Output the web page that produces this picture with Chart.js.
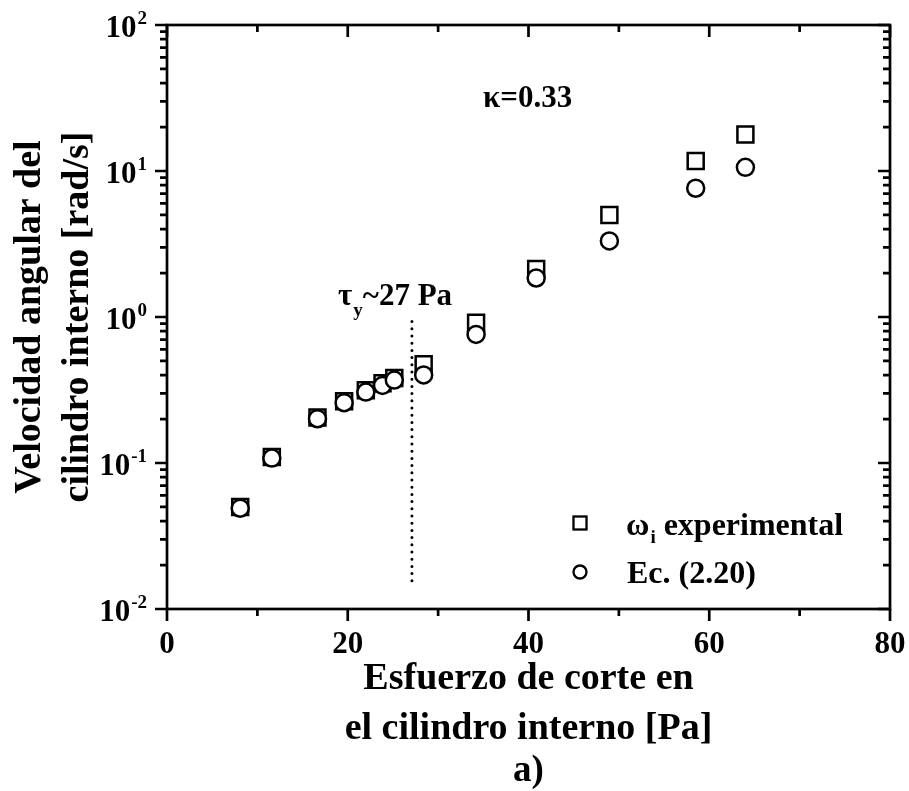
<!DOCTYPE html>
<html>
<head>
<meta charset="utf-8">
<script src="https://cdn.jsdelivr.net/npm/chart.js@4.4.1/dist/chart.umd.min.js"></script>
<style>
  html, body { margin: 0; padding: 0; background: #fff; }
  #wrap { width: 909px; height: 791px; position: relative; }
</style>
</head>
<body>
<div id="wrap"><canvas id="omegaChart"></canvas></div>
<script>
// datos
const shearStress = [8.1, 11.6, 16.65, 19.6, 22.0, 23.85, 25.15, 28.4, 34.2, 40.85, 48.95, 58.5, 64.0];
const omegaExperimental = [0.050, 0.110, 0.205, 0.265, 0.315, 0.352, 0.382, 0.474, 0.914, 2.13, 5.0, 11.7, 17.8];
const omegaEquation = [0.049, 0.108, 0.201, 0.259, 0.306, 0.340, 0.370, 0.401, 0.76, 1.85, 3.32, 7.62, 10.6];
const yieldStress = 27.1;
const yieldLineOmega = [0.0156, 0.94];

const xTicksMajor = [0, 20, 40, 60, 80];
const xTicksMinor = [10, 30, 50, 70];
const yDecades = [-2, -1, 0, 1, 2];

const xTitleLines = ["Esfuerzo de corte en", "el cilindro interno [Pa]"];
const yTitleLines = ["Velocidad angular del", "cilindro interno [rad/s]"];
const panelLabel = "a)";
const kappaText = "κ=0.33";
const tauText = ["τ", "y", "~27 Pa"];
const legendExp = ["ω", "i", " experimental"];
const legendEq = "Ec. (2.20)";

const serif = '"Liberation Serif", "Times New Roman", serif';
const font = (px) => `bold ${px}px ${serif}`;

const ctx = document.getElementById("omegaChart").getContext("2d");

// texto con subindice: [base, sub, resto]
function drawSubText(c, parts, x, y, size, subSize, subDrop) {
    c.font = font(size);
    c.fillText(parts[0], x, y);
    x += c.measureText(parts[0]).width + 1;
    c.font = font(subSize);
    c.fillText(parts[1], x, y + subDrop);
    x += c.measureText(parts[1]).width;
    c.font = font(size);
    c.fillText(parts[2], x, y);
}

// ejes, ticks y textos
const framePlugin = {
    id: "frame",
    afterDraw(chart) {
        const c = chart.ctx;
        const a = chart.chartArea;
        const xs = chart.scales.x;
        const ys = chart.scales.y;
        c.save();
        c.strokeStyle = "#000";
        c.fillStyle = "#000";
        c.lineWidth = 2.7;
        c.strokeRect(a.left, a.top, a.right - a.left, a.bottom - a.top);

        // ticks x: abajo hacia afuera, arriba hacia adentro
        const xTick = (v, len) => {
            const px = xs.getPixelForValue(v);
            c.beginPath();
            c.moveTo(px, a.bottom); c.lineTo(px, a.bottom + len);
            c.moveTo(px, a.top); c.lineTo(px, a.top + len);
            c.stroke();
        };
        xTicksMajor.forEach(v => xTick(v, 12));
        xTicksMinor.forEach(v => xTick(v, 7));

        // ticks y: izquierda hacia afuera, derecha hacia adentro
        const yTick = (v, len) => {
            const py = ys.getPixelForValue(v);
            c.beginPath();
            c.moveTo(a.left, py); c.lineTo(a.left - len, py);
            c.moveTo(a.right, py); c.lineTo(a.right - len, py);
            c.stroke();
        };
        yDecades.forEach(d => {
            yTick(Math.pow(10, d), 12);
            if (d < 2) {
                for (let m = 2; m <= 9; m++) yTick(m * Math.pow(10, d), 7);
            }
        });

        // etiquetas x
        c.font = font(31);
        c.textAlign = "center";
        c.textBaseline = "alphabetic";
        xTicksMajor.forEach(v => c.fillText(String(v), xs.getPixelForValue(v), a.bottom + 44));

        // etiquetas y (potencias de 10)
        yDecades.forEach(d => {
            const py = ys.getPixelForValue(Math.pow(10, d));
            const sup = String(d);
            c.font = font(19);
            const sw = c.measureText(sup).width;
            c.textAlign = "right";
            c.fillText(sup, 147, py - 1);
            c.font = font(31);
            c.fillText("10", 147 - sw - 1, py + 12);
        });

        // titulos
        const cx = (a.left + a.right) / 2;
        c.textAlign = "center";
        c.font = font(38);
        c.fillText(xTitleLines[0], cx, 689);
        c.fillText(xTitleLines[1], cx, 739);
        c.font = font(37);
        c.fillText(panelLabel, cx, 781);

        const cy = (a.top + a.bottom) / 2;
        c.save();
        c.translate(0, cy);
        c.rotate(-Math.PI / 2);
        c.font = font(38);
        c.fillText(yTitleLines[0], 0, 40);
        c.fillText(yTitleLines[1], 0, 88);
        c.restore();

        // anotaciones
        c.textAlign = "left";
        c.font = font(31);
        c.fillText(kappaText, 483, 107);
        drawSubText(c, tauText, 338, 305, 31, 19, 11);

        // leyenda
        c.lineWidth = 2.3;
        c.strokeRect(573.5, 516.5, 13, 13);
        c.beginPath();
        c.arc(580, 572, 6.5, 0, Math.PI * 2);
        c.stroke();
        drawSubText(c, legendExp, 626, 535, 32, 19, 8);
        c.font = font(32);
        c.fillText(legendEq, 627, 583);
        c.restore();
    }
};

const omegaChart = new Chart(ctx, {
    type: "scatter",
    data: {
        datasets: [
            {
                label: legendEq,
                data: shearStress.map((x, i) => ({ x: x, y: omegaEquation[i] })),
                pointStyle: "circle",
                pointRadius: 8.5,
                borderColor: "#000",
                backgroundColor: "#fff",
                borderWidth: 2.5,
                order: 0
            },
            {
                label: legendExp.join(""),
                data: shearStress.map((x, i) => ({ x: x, y: omegaExperimental[i] })),
                pointStyle: "rect",
                pointRadius: 11.3,
                borderColor: "#000",
                backgroundColor: "#fff",
                borderWidth: 2.5,
                order: 1
            },
            {
                type: "line",
                label: "tau_y",
                data: yieldLineOmega.map(y => ({ x: yieldStress, y: y })),
                showLine: true,
                borderColor: "#000",
                borderWidth: 3,
                borderDash: [0, 7.2],
                borderCapStyle: "round",
                pointRadius: 0,
                order: 2
            }
        ]
    },
    options: {
        responsive: true,
        maintainAspectRatio: false,
        animation: false,
        devicePixelRatio: 1,
        layout: { padding: { left: 167, right: 19, top: 25, bottom: 182 } },
        scales: {
            x: { type: "linear", min: 0, max: 80, display: false },
            y: { type: "logarithmic", min: 0.01, max: 100, display: false }
        },
        plugins: {
            legend: { display: false },
            tooltip: { enabled: false }
        }
    },
    plugins: [framePlugin]
});
</script>
</body>
</html>
